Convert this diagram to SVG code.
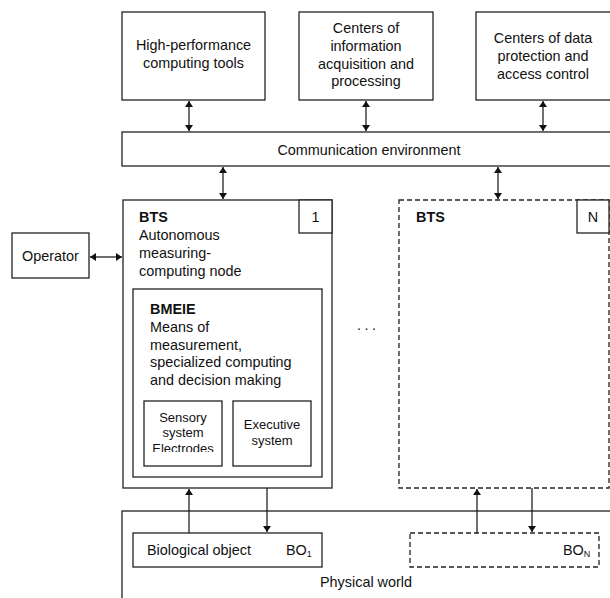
<svg xmlns="http://www.w3.org/2000/svg" width="610" height="598" viewBox="0 0 610 598">
<style>
.b{fill:#fff;stroke:#222;stroke-width:1.3}
.d{fill:none;stroke:#222;stroke-width:1.3;stroke-dasharray:5,3}
.t{font-family:"Liberation Sans",Arial,sans-serif;font-size:14.4px;fill:#111}
.c{text-anchor:middle}
.s{font-size:13px}
.bold{font-weight:bold}
.l{stroke:#111;stroke-width:1.2;fill:none}
</style>
<defs>
<marker id="ah" viewBox="0 0 10 10" refX="10" refY="5" markerWidth="6" markerHeight="8" markerUnits="userSpaceOnUse" orient="auto-start-reverse" preserveAspectRatio="none">
<path d="M0,0 L10,5 L0,10 z" fill="#111"/>
</marker>
<clipPath id="clipS"><rect x="144" y="401" width="78" height="51"/></clipPath>
</defs>

<g id="physical-world">
<rect class="b" x="122" y="511" width="500" height="100"/>
<text class="t c" x="366" y="587">Physical world</text>
</g>

<g id="hpc">
<rect class="b" x="122" y="12" width="143" height="88"/>
<text class="t c" x="193.5" y="50">High-performance</text>
<text class="t c" x="193.5" y="68">computing tools</text>
</g>
<g id="centers-info">
<rect class="b" x="299" y="12" width="134" height="88"/>
<text class="t c" x="366" y="33">Centers of</text>
<text class="t c" x="366" y="51">information</text>
<text class="t c" x="366" y="69">acquisition and</text>
<text class="t c" x="366" y="86">processing</text>
</g>
<g id="centers-protection">
<rect class="b" x="476" y="12" width="140" height="88"/>
<text class="t c" x="543" y="43">Centers of data</text>
<text class="t c" x="543" y="61">protection and</text>
<text class="t c" x="543" y="79">access control</text>
</g>
<g id="comm">
<rect class="b" x="122" y="132" width="500" height="34"/>
<text class="t c" x="369" y="155">Communication environment</text>
</g>

<g id="operator">
<rect class="b" x="12" y="233" width="77" height="45"/>
<text class="t c" x="50.5" y="261">Operator</text>
</g>

<g id="bts1">
<rect class="b" x="123" y="200" width="209" height="288"/>
<rect class="b" x="299" y="200" width="33" height="33"/>
<text class="t c" x="315.5" y="222">1</text>
<text class="t bold" x="139" y="222">BTS</text>
<text class="t" x="139" y="240">Autonomous</text>
<text class="t" x="139" y="258">measuring-</text>
<text class="t" x="139" y="276">computing node</text>
</g>
<g id="bmeie">
<rect class="b" x="133" y="289" width="189" height="188"/>
<text class="t bold" x="150" y="314">BMEIE</text>
<text class="t" x="150" y="332">Means of</text>
<text class="t" x="150" y="350">measurement,</text>
<text class="t" x="150" y="367">specialized computing</text>
<text class="t" x="150" y="385">and decision making</text>
</g>
<g id="sensory">
<rect class="b" x="144" y="401" width="78" height="65"/>
<g clip-path="url(#clipS)">
<text class="t s c" x="183" y="422">Sensory</text>
<text class="t s c" x="183" y="437">system</text>
<text class="t s c" x="183" y="453">Electrodes</text>
</g>
</g>
<g id="executive">
<rect class="b" x="233" y="401" width="78" height="65"/>
<text class="t s c" x="272" y="429">Executive</text>
<text class="t s c" x="272" y="445">system</text>
</g>

<g id="btsN">
<rect class="d" x="399" y="200" width="210" height="288"/>
<rect class="b" x="577" y="200" width="32" height="33"/>
<text class="t c" x="593" y="222">N</text>
<text class="t bold" x="416" y="222">BTS</text>
</g>

<g id="ellipsis">
<text class="t" x="357" y="330" letter-spacing="3.5">...</text>
</g>

<g id="bo1">
<rect class="b" x="133" y="533" width="189" height="34"/>
<text class="t" x="147" y="555">Biological object</text>
<text class="t" x="286" y="555">BO<tspan font-size="9" dy="2">1</tspan></text>
</g>
<g id="boN">
<rect class="d" x="410" y="533" width="189" height="34"/>
<text class="t" x="563" y="555">BO<tspan font-size="9" dy="2">N</tspan></text>
</g>

<g id="connectors">
<line class="l" x1="189" y1="101" x2="189" y2="131" marker-start="url(#ah)" marker-end="url(#ah)"/>
<line class="l" x1="366" y1="101" x2="366" y2="131" marker-start="url(#ah)" marker-end="url(#ah)"/>
<line class="l" x1="543" y1="101" x2="543" y2="131" marker-start="url(#ah)" marker-end="url(#ah)"/>
<line class="l" x1="223" y1="167" x2="223" y2="199" marker-start="url(#ah)" marker-end="url(#ah)"/>
<line class="l" x1="498" y1="167" x2="498" y2="199" marker-start="url(#ah)" marker-end="url(#ah)"/>
<line class="l" x1="90" y1="257" x2="122" y2="257" marker-start="url(#ah)" marker-end="url(#ah)"/>
<line class="l" x1="189" y1="533" x2="189" y2="489" marker-end="url(#ah)"/>
<line class="l" x1="267" y1="488" x2="267" y2="532" marker-end="url(#ah)"/>
<line class="l" x1="477" y1="533" x2="477" y2="489" marker-end="url(#ah)"/>
<line class="l" x1="532" y1="488" x2="532" y2="532" marker-end="url(#ah)"/>
</g>
</svg>
